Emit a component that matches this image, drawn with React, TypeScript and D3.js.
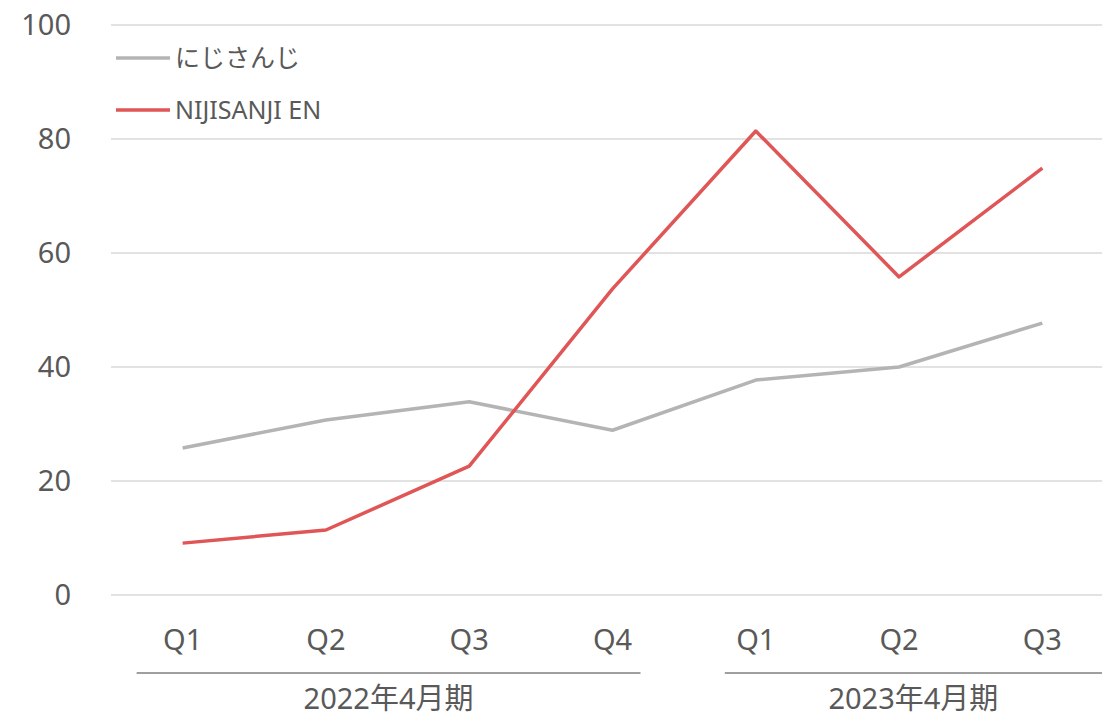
import React from "react";
import * as d3 from "d3";

// quarters and fiscal year groups
const quarters = ["Q1", "Q2", "Q3", "Q4", "Q1", "Q2", "Q3"];
const fiscalGroups = ["2022年4月期", "2023年4月期"];
const groupRanges = [
  [0, 3],
  [4, 6],
];

// series values
const nijisanji = [25.8, 30.7, 33.9, 28.9, 37.7, 40.0, 47.7];
const nijisanjiEN = [9.1, 11.4, 22.6, 53.7, 81.4, 55.8, 74.9];

const yTicks = [0, 20, 40, 60, 80, 100];

const seriesNames = ["にじさんじ", "NIJISANJI EN"];
const seriesColors = ["#b4b4b4", "#e05555"];

const W = 1102;
const H = 718;
const FONT = '"Noto Sans", "Noto Sans CJK JP", sans-serif';
const TEXT = "#595959";

export default function App() {
  const left = 111;
  const right = 1114;
  const x = d3
    .scaleBand<number>()
    .domain(d3.range(quarters.length))
    .range([left, right]);
  const cx = (i: number) => (x(i) as number) + x.bandwidth() / 2;

  const y = d3.scaleLinear().domain([0, 100]).range([595, 25]);

  const lineGen = d3
    .line<number>()
    .x((d, i) => cx(i))
    .y((d) => y(d));

  const series = [nijisanji, nijisanjiEN];

  // padding of the group underline around first/last category centres
  const groupPad = [
    [46, 28],
    [31, 60],
  ];

  return (
    <svg
      width={W}
      height={H}
      style={{ position: "absolute", left: 0, top: 0, fontFamily: FONT }}
    >
      <rect width={W} height={H} fill="#fff" />

      {/* gridlines */}
      {yTicks.map((t) => (
        <line
          key={t}
          x1={left}
          x2={W}
          y1={y(t)}
          y2={y(t)}
          stroke="#d9d9d9"
          strokeWidth={1.5}
        />
      ))}
      {yTicks.map((t) => (
        <text
          key={"l" + t}
          x={71}
          y={y(t)}
          dy="0.36em"
          textAnchor="end"
          fontSize={29}
          fill={TEXT}
        >
          {t}
        </text>
      ))}

      {/* category labels */}
      {quarters.map((q, i) => (
        <text
          key={"q" + i}
          x={cx(i)}
          y={640}
          dy="0.36em"
          textAnchor="middle"
          fontSize={29}
          fill={TEXT}
        >
          {q}
        </text>
      ))}

      {/* fiscal year groups */}
      {fiscalGroups.map((g, gi) => {
        const [a, b] = groupRanges[gi];
        const x1 = cx(a) - groupPad[gi][0];
        const x2 = Math.min(W, cx(b) + groupPad[gi][1]);
        return (
          <g key={g}>
            <line
              x1={x1}
              x2={x2}
              y1={673}
              y2={673}
              stroke="#7f7f7f"
              strokeWidth={1.5}
            />
            <text
              x={(x1 + x2) / 2}
              y={709}
              textAnchor="middle"
              fontSize={29}
              fill={TEXT}
            >
              {g}
            </text>
          </g>
        );
      })}

      {/* lines */}
      {series.map((s, si) => (
        <path
          key={"s" + si}
          d={lineGen(s) || ""}
          fill="none"
          stroke={seriesColors[si]}
          strokeWidth={3.5}
          strokeLinejoin="round"
        />
      ))}

      {/* legend */}
      {seriesNames.map((n, i) => (
        <g key={n} transform={`translate(116, ${58 + i * 52})`}>
          <line x1={0} x2={54} y1={0} y2={0} stroke={seriesColors[i]} strokeWidth={3.5} />
          <text x={59} y={0} dy="0.36em" fontSize={25} fill={TEXT}>
            {n}
          </text>
        </g>
      ))}
    </svg>
  );
}
